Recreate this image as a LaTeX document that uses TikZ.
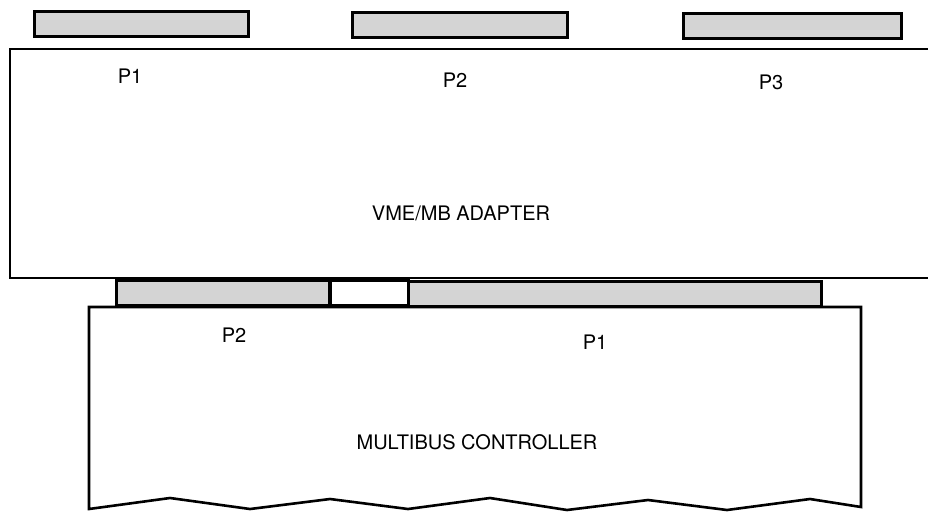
\documentclass[tikz,border=0pt]{standalone}
\usepackage{fontspec}
\setmainfont{TeX Gyre Heros}
\usepackage{tikz}
\usetikzlibrary{positioning, calc}
\begin{document}
\begin{tikzpicture}[x=1pt, y=-1pt,
    every node/.style={font=\fontsize{20}{23}\selectfont},
    conn/.style={draw, line width=3pt, fill=black!17, minimum height=25pt, inner sep=0pt},
    board/.style={line width=2.6pt, line join=miter}]
    \useasboundingbox (0,0) rectangle (928,512);
    % connectors on top of the adapter
    \node[conn, minimum width=214pt] (top1) at (141.5,23.5) {};
    \node[conn, minimum width=215pt] (top2) at (460,24.5) {};
    \node[conn, minimum width=218pt] (top3) at (792.5,25.5) {};
    % adapter board (runs off the right edge)
    \draw[board] (928,49) -- (10,49) -- (10,278) -- (928,278);
    \node (p1a) at (130,76) {P1};
    \node (p2a) at (455,80) {P2};
    \node (p3a) at (771,82) {P3};
    \node (adapter) at (461,213) {VME/MB ADAPTER};
    % connectors between the boards
    \node[conn, minimum width=213pt] (bot2) at (223,292.5) {};
    \node[conn, fill=none, minimum width=78pt] (gap) at (369,292.5) {};
    \node[conn, minimum width=413pt] (bot1) at (615,293.5) {};
    % multibus controller with torn bottom
    \draw[board] (89,509) -- (89,307) -- (861,307) -- (861,507)
        -- (810,499) -- (727,510) -- (648,500) -- (567,510) -- (490,498)
        -- (408,509) -- (330,499) -- (250,509) -- (170,498) -- cycle;
    \node (p2b) at (234,335) {P2};
    \node (p1b) at (595,342) {P1};
    \node (ctrl) at (477,442) {MULTIBUS CONTROLLER};
\end{tikzpicture}
\end{document}
